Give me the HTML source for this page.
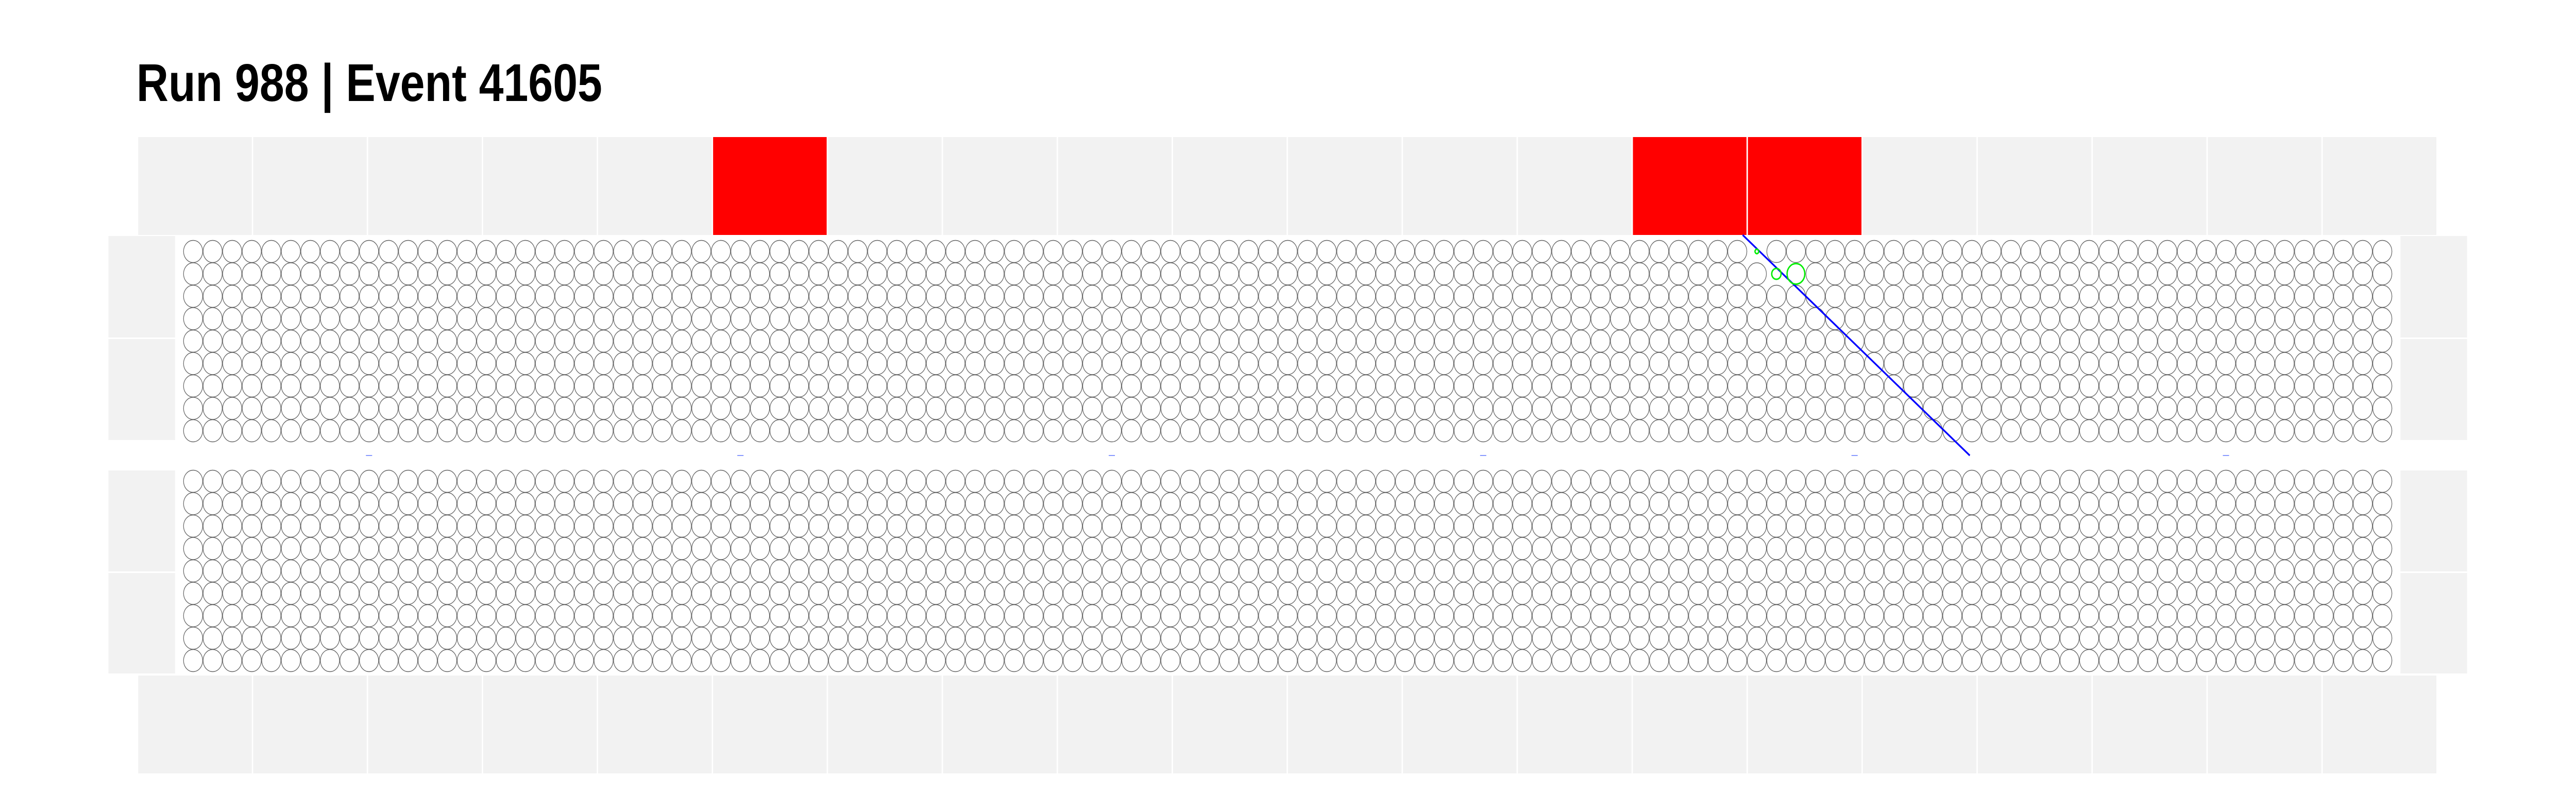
<!DOCTYPE html>
<html><head><meta charset="utf-8"><style>
html,body{margin:0;padding:0;background:#fff;width:100%;height:100%;overflow:hidden;}
svg{display:block;width:100vw;height:100vh;}
</style></head><body>
<svg id="chart" viewBox="0 0 5796 1572" preserveAspectRatio="none" xmlns="http://www.w3.org/2000/svg">
<rect x="0" y="0" width="5796" height="1572" fill="#fff"/>
<text x="307" y="196" font-family="Liberation Sans, sans-serif" font-weight="bold" font-size="103" textLength="1048" lengthAdjust="spacingAndGlyphs" fill="#000">Run 988 | Event 41605</text>
<rect x="395" y="458" width="5005" height="396" fill="#fff"/>
<rect x="395" y="913" width="5005" height="395" fill="#fff"/>
<g id="panels"></g>
<g id="pmts"></g>
<g id="marks"></g>
</svg>
<script>
// data
const topPanelCount = 20;
const hitTopPanels = [5, 13, 14];
const hitBottomPanels = [];
const pmtCols = 113;
const pmtRows = 9;
const hitCols = [80, 81, 82];
const hitRows = [0, 1, 1];
const hitSizes = [0.2, 0.5, 0.95];
const trackStart = [3921, 456];
const trackEnd = [4432, 884];
const markerCols = [9, 28, 47, 66, 85, 104];

const NS = 'http://www.w3.org/2000/svg';
function mk(tag, attrs, parent){const e=document.createElementNS(NS,tag);for(const k in attrs)e.setAttribute(k,attrs[k]);parent.appendChild(e);return e;}
const panels=document.getElementById('panels');
const pmts=document.getElementById('pmts');
const marks=document.getElementById('marks');
// axis functions
const panelX = i => 311 + i*258.7;
const colX = c => 434.5 + c*43.98;
const rowYUpper = r => 488 + r*43.5;
const rowYLower = r => 934 + r*43.5;

for(let i=0;i<topPanelCount;i++){
  const t=mk('rect',{x:panelX(i),y:266,width:255.5,height:190,fill:hitTopPanels.includes(i)?'#ff0000':'#f2f2f2'},panels);
  
  
  const b=mk('rect',{x:panelX(i),y:1311,width:255.5,height:190,fill:hitBottomPanels.includes(i)?'#ff0000':'#f2f2f2'},panels);
  
  
}
const sideY=[[458,197],[658,196],[913,196],[1112,195]];
sideY.forEach(s=>{
  const l=mk('rect',{x:244,y:s[0],width:150,height:s[1],fill:'#f2f2f2'},panels);
  
  
  const r=mk('rect',{x:5401,y:s[0],width:150,height:s[1],fill:'#f2f2f2'},panels);
  
  
});

function isHit(c,r){for(let k=0;k<hitCols.length;k++){if(hitCols[k]===c&&hitRows[k]===r)return true;}return false;}
for(let c=0;c<pmtCols;c++){
  for(let r=0;r<pmtRows;r++){
    if(!isHit(c,r)){
      const u=mk('circle',{cx:colX(c),cy:rowYUpper(r),r:21.5,fill:'none',stroke:'#666',"stroke-width":1.4},pmts);
      
      
    }
    const d=mk('circle',{cx:colX(c),cy:rowYLower(r),r:21.5,fill:'none',stroke:'#666',"stroke-width":1.4},pmts);
    
    
  }
}
markerCols.forEach(c=>{
  const m=mk('line',{x1:colX(c)-7,y1:884,x2:colX(c)+7,y2:884,stroke:'#8899ff',"stroke-width":2},marks);
  
  
});
const tr=mk('line',{x1:trackStart[0],y1:trackStart[1],x2:trackEnd[0],y2:trackEnd[1],stroke:'#0000ff',"stroke-width":3.5},marks);


for(let k=0;k<hitCols.length;k++){
  const h=mk('circle',{cx:colX(hitCols[k]),cy:rowYUpper(hitRows[k]),r:21*hitSizes[k],fill:'none',stroke:'#00ee00',"stroke-width":3},marks);
  
  
}
</script>
</body></html>
